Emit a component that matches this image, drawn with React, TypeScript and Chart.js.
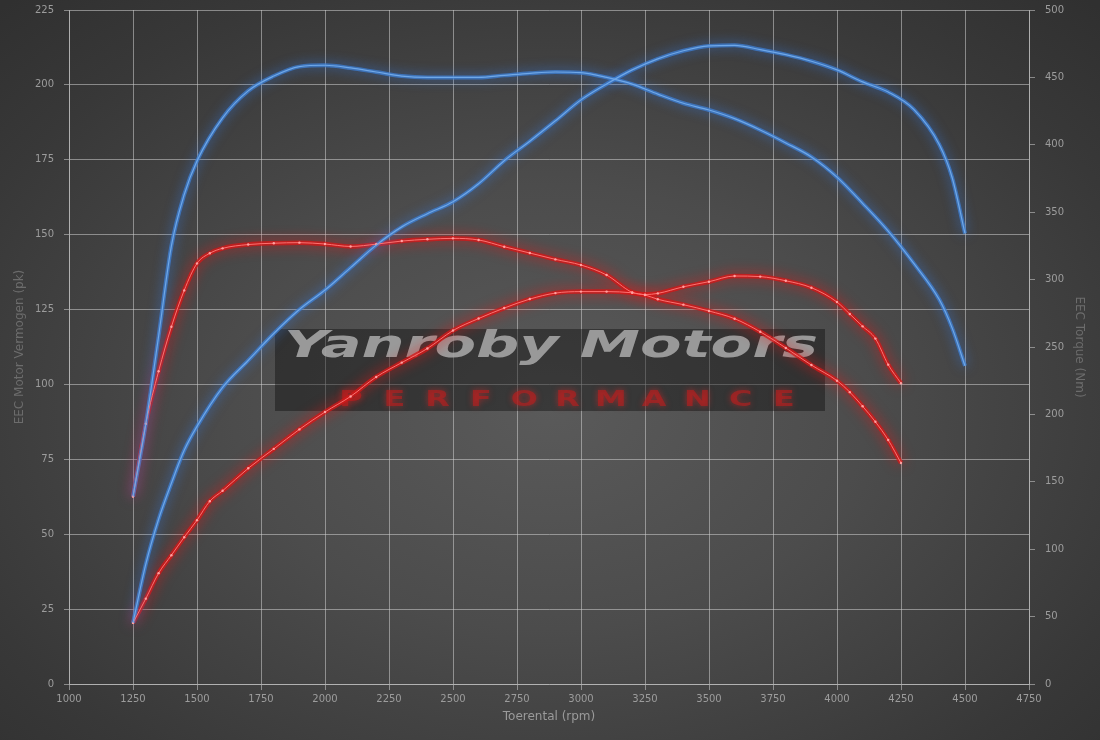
import React, { useEffect, useRef } from 'react';
import { Chart, registerables } from 'chart.js';

Chart.register(...registerables);

// ---------- data ----------
const tunedRpm = [1250, 1300, 1350, 1400, 1450, 1500, 1600, 1700, 1800, 1900, 2000, 2100, 2200, 2300, 2400, 2500, 2600, 2700, 2800, 2900, 3000, 3100, 3200, 3300, 3400, 3500, 3600, 3700, 3800, 3900, 4000, 4100, 4200, 4300, 4400, 4450, 4500];
const tunedPower = [20.4, 40, 55, 67, 78, 86, 99, 108, 117, 125, 131.5, 139, 146.5, 152.6, 157, 161, 167, 174.7, 181.2, 188, 195, 200.3, 205, 208.7, 211.4, 213, 213.2, 211.8, 210.1, 207.9, 205, 201, 197.6, 191.8, 180, 169, 150.4];
const tunedTorque = [139, 193, 258, 325, 363, 388, 420, 440, 451, 458, 459, 457, 454, 451, 450, 450, 450, 451.5, 453, 454, 453.5, 450, 445, 437.6, 430.8, 425.8, 419.4, 411, 401.4, 391, 376, 356.6, 336, 312, 285, 264, 236];

const stockRpm = [1250, 1300, 1350, 1400, 1450, 1500, 1550, 1600, 1700, 1800, 1900, 2000, 2100, 2200, 2300, 2400, 2500, 2600, 2700, 2800, 2900, 3000, 3100, 3200, 3250, 3300, 3400, 3500, 3600, 3700, 3800, 3900, 4000, 4050, 4100, 4150, 4200, 4250];
const stockPower = [20.4, 28.5, 37, 43, 49, 54.7, 61, 64.5, 72, 78.5, 85, 90.8, 96, 102.5, 107.3, 112, 118, 122, 125.5, 128.5, 130.5, 131, 131, 130.6, 130, 130.4, 132.6, 134.3, 136.2, 136, 134.6, 132.3, 127.5, 123.5, 119.4, 115.3, 106.6, 100.4];
const stockTorque = [139, 193, 232, 265, 292, 312, 319.5, 323.2, 326, 327, 327.4, 326.4, 324.6, 326.3, 328.6, 329.9, 330.6, 329.4, 324.4, 319.7, 315, 310.8, 303.4, 290.5, 288.6, 285.4, 281.4, 276.7, 271, 261.3, 249.3, 236.6, 225, 216.5, 206, 194.5, 181, 164];

const xRange = [1000, 4750];
const xStep = 250;
const powerRange = [0, 225];
const powerStep = 25;
const torqueRange = [0, 500];
const torqueStep = 50;

const xTitle = 'Toerental (rpm)';
const leftTitle = 'EEC Motor Vermogen (pk)';
const rightTitle = 'EEC Torque (Nm)';
const brandText = 'Yanroby Motors';
const brandSub = 'PERFORMANCE';

// ---------- styles ----------
const FONT = '"DejaVu Sans", Verdana, sans-serif';
const gridColor = 'rgba(205,205,205,0.55)';
const tickColor = '#9c9c9c';

const toPts = (xs: number[], ys: number[]) => xs.map((x, i) => ({ x, y: ys[i] }));

const glowPlugin = {
  id: 'glowPlugin',
  beforeDatasetDraw(chart: any, args: any) {
    const ds = chart.data.datasets[args.index];
    const ctx = chart.ctx;
    ctx.save();
    if (ds.glowColor) {
      ctx.shadowColor = ds.glowColor;
      ctx.shadowBlur = ds.glowBlur || 8;
    }
  },
  afterDatasetDraw(chart: any) {
    chart.ctx.restore();
  },
};

const watermarkPlugin = {
  id: 'watermarkPlugin',
  beforeDatasetsDraw(chart: any) {
    const ctx: CanvasRenderingContext2D = chart.ctx;
    ctx.save();
    ctx.fillStyle = 'rgba(12,12,12,0.42)';
    ctx.fillRect(275, 329, 550, 82);

    ctx.font = `italic bold 38px ${FONT}`;
    const w = ctx.measureText(brandText).width;
    ctx.save();
    ctx.translate(284, 357);
    ctx.scale(534 / w, 1);
    ctx.fillStyle = 'rgba(172,172,172,0.85)';
    ctx.textBaseline = 'alphabetic';
    ctx.textAlign = 'left';
    ctx.fillText(brandText, 0, 0);
    ctx.restore();

    ctx.font = `bold 22px ${FONT}`;
    ctx.fillStyle = 'rgba(185,30,30,0.62)';
    ctx.shadowColor = 'rgba(215,35,35,0.9)';
    ctx.shadowBlur = 6;
    ctx.textAlign = 'center';
    ctx.textBaseline = 'alphabetic';
    const letters = brandSub.split('');
    const x0 = 351;
    const x1 = 784;
    const step = (x1 - x0) / (letters.length - 1);
    letters.forEach((ch, i) => {
      ctx.save();
      ctx.translate(x0 + i * step, 406);
      ctx.scale(1.45, 1);
      ctx.fillText(ch, 0, 0);
      ctx.restore();
    });
    ctx.restore();
  },
};

export default function App() {
  const ref = useRef<HTMLCanvasElement | null>(null);

  useEffect(() => {
    document.body.style.margin = '0';
    document.body.style.background = '#333';
    if (!ref.current) return;

    const common = {
      fill: false,
      tension: 0.4,
      cubicInterpolationMode: 'monotone' as const,
    };

    const blueCore = '#6fa8e8';
    const blueGlow = 'rgba(62,128,214,0.75)';
    const blueShadow = 'rgba(50,125,240,0.9)';
    const redCore = '#ff7070';
    const redGlow = 'rgba(212,24,24,0.78)';
    const redShadow = 'rgba(255,15,15,0.95)';

    const fixV = (w: number) => (s: any) => {
      s.width = w;
      s.paddingTop = 0;
      s.paddingBottom = 0;
    };

    const chart = new Chart(ref.current, {
      type: 'line',
      data: {
        datasets: [
          // cores
          { ...common, label: 'tuned torque core', data: toPts(tunedRpm, tunedTorque), yAxisID: 'y1', borderColor: blueCore, borderWidth: 1.2, pointRadius: 0, order: 0 },
          { ...common, label: 'tuned power core', data: toPts(tunedRpm, tunedPower), yAxisID: 'y', borderColor: blueCore, borderWidth: 1.2, pointRadius: 0, order: 0 },
          { ...common, label: 'stock torque core', data: toPts(stockRpm, stockTorque), yAxisID: 'y1', borderColor: redCore, borderWidth: 1, pointRadius: 1.2, pointBackgroundColor: '#ffa0a0', pointBorderWidth: 0, order: 1 },
          { ...common, label: 'stock power core', data: toPts(stockRpm, stockPower), yAxisID: 'y', borderColor: redCore, borderWidth: 1, pointRadius: 1.2, pointBackgroundColor: '#ffa0a0', pointBorderWidth: 0, order: 1 },
          // glows
          { ...common, label: 'tuned torque', data: toPts(tunedRpm, tunedTorque), yAxisID: 'y1', borderColor: blueGlow, borderWidth: 4, pointRadius: 0, order: 2, glowColor: blueShadow, glowBlur: 12 } as any,
          { ...common, label: 'tuned power', data: toPts(tunedRpm, tunedPower), yAxisID: 'y', borderColor: blueGlow, borderWidth: 4, pointRadius: 0, order: 2, glowColor: blueShadow, glowBlur: 12 } as any,
          { ...common, label: 'stock torque', data: toPts(stockRpm, stockTorque), yAxisID: 'y1', borderColor: redGlow, borderWidth: 4.5, pointRadius: 0, order: 3, glowColor: redShadow, glowBlur: 13 } as any,
          { ...common, label: 'stock power', data: toPts(stockRpm, stockPower), yAxisID: 'y', borderColor: redGlow, borderWidth: 4.5, pointRadius: 0, order: 3, glowColor: redShadow, glowBlur: 13 } as any,
        ],
      },
      options: {
        responsive: false,
        animation: false,
        devicePixelRatio: 1,
        layout: { padding: { top: 10, left: 0, right: 0, bottom: 0 } },
        plugins: {
          legend: { display: false },
          tooltip: { enabled: false },
        },
        scales: {
          x: {
            type: 'linear',
            position: 'bottom',
            min: xRange[0],
            max: xRange[1],
            ticks: {
              stepSize: xStep,
              color: tickColor,
              font: { family: FONT, size: 10 },
              padding: 3,
              maxRotation: 0,
              autoSkip: false,
              callback: (v: any) => String(v),
            },
            grid: { color: gridColor, tickLength: 6, lineWidth: 1 },
            border: { color: gridColor },
            title: {
              display: true,
              text: xTitle,
              color: '#9a9a9a',
              font: { family: FONT, size: 12 },
              padding: { top: 0, bottom: 16 },
            },
            afterFit: (s: any) => {
              s.height = 56;
            },
          },
          y: {
            type: 'linear',
            position: 'left',
            min: powerRange[0],
            max: powerRange[1],
            ticks: {
              stepSize: powerStep,
              color: tickColor,
              font: { family: FONT, size: 10 },
              padding: 10,
              callback: (v: any) => String(v),
            },
            grid: { color: gridColor, tickLength: 5, lineWidth: 1 },
            border: { color: gridColor },
            title: {
              display: true,
              text: leftTitle,
              color: '#6c6c6c',
              font: { family: FONT, size: 12 },
              padding: { top: 13, bottom: 0 },
            },
            afterFit: fixV(69),
          },
          y1: {
            type: 'linear',
            position: 'right',
            min: torqueRange[0],
            max: torqueRange[1],
            ticks: {
              stepSize: torqueStep,
              color: tickColor,
              font: { family: FONT, size: 10 },
              padding: 10,
              callback: (v: any) => String(v),
            },
            grid: { color: gridColor, tickLength: 6, drawOnChartArea: false, lineWidth: 1 },
            border: { color: gridColor },
            title: {
              display: true,
              text: rightTitle,
              color: '#6c6c6c',
              font: { family: FONT, size: 12 },
              padding: { top: 14, bottom: 0 },
            },
            afterFit: fixV(71),
          },
        },
      } as any,
      plugins: [glowPlugin, watermarkPlugin],
    });

    return () => chart.destroy();
  }, []);

  return (
    <div
      style={{
        position: 'fixed',
        left: 0,
        top: 0,
        width: 1100,
        height: 740,
        background:
          'radial-gradient(ellipse 72% 75% at 50% 55%, #5a5a5a 0%, #4c4c4c 40%, #383838 80%, #303030 100%)',
      }}
    >
      <canvas ref={ref} width={1100} height={740} style={{ display: 'block', width: 1100, height: 740 }} />
    </div>
  );
}
